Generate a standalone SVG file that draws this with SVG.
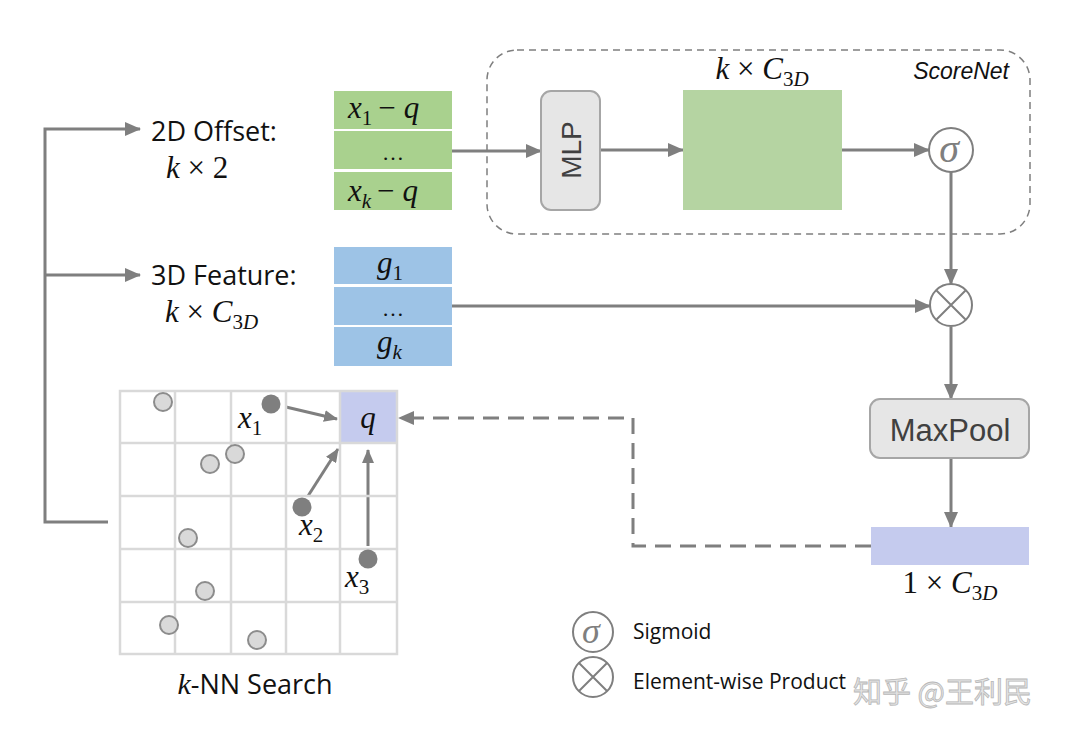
<svg xmlns="http://www.w3.org/2000/svg" width="1080" height="740" viewBox="0 0 1080 740">
<defs>
<marker id="ah" markerUnits="userSpaceOnUse" markerWidth="16" markerHeight="14" refX="15" refY="7" orient="auto">
<path d="M0,0 L16,7 L0,14 z" fill="#7f7f7f"/>
</marker>
<marker id="ahs" markerUnits="userSpaceOnUse" markerWidth="14" markerHeight="12" refX="13" refY="6" orient="auto">
<path d="M0,0 L14,6 L0,12 z" fill="#7f7f7f"/>
</marker>
<style>
.ln{stroke:#7f7f7f;stroke-width:3;fill:none}
.lab{font-family:"Open Sans","Noto Sans",sans-serif;font-size:27px;fill:#111}
.m{font-family:"Liberation Serif","DejaVu Serif",serif;font-size:31px;fill:#111}
.i{font-style:italic}
.s{font-size:21px}
.dots{font-size:22px}
.sg{fill:#7f7f7f;font-size:40px}
.sgl{fill:#7f7f7f;font-size:36px}
.grid{stroke:#d9d9d9;stroke-width:2.5;fill:none}
.pt{fill:#d9d9d9;stroke:#8c8c8c;stroke-width:2}
.dk{fill:#7f7f7f}
.box{fill:#e6e6e6;stroke:#a6a6a6;stroke-width:2}
.sans{font-family:"Liberation Sans",Arial,sans-serif;fill:#404040}
.circ{fill:#fff;stroke:#7f7f7f;stroke-width:2}
.leg{font-family:"Open Sans","Noto Sans",sans-serif;font-size:21px;fill:#111}
</style>
</defs>

<g id="connectors">
<path class="ln" d="M108,522 H45 V129 H140" marker-end="url(#ah)"/>
<path class="ln" d="M45,275 H140" marker-end="url(#ah)"/>
<path class="ln" d="M452,151 H541" marker-end="url(#ah)"/>
<path class="ln" d="M600,150 H683" marker-end="url(#ah)"/>
<path class="ln" d="M842,150 H929" marker-end="url(#ah)"/>
<path class="ln" d="M951,172 V284" marker-end="url(#ah)"/>
<path class="ln" d="M452,306 H930" marker-end="url(#ah)"/>
<path class="ln" d="M951,327 V399" marker-end="url(#ah)"/>
<path class="ln" d="M951,458 V527" marker-end="url(#ah)"/>
<path class="ln" d="M871,546 H633 V418 H399" stroke-dasharray="16,9" marker-end="url(#ah)"/>
<path class="ln" d="M286,407 L337,419" marker-end="url(#ahs)"/>
<path class="ln" d="M308,496 L338,449" marker-end="url(#ahs)"/>
<path class="ln" d="M368,546 V450" marker-end="url(#ahs)"/>
</g>

<g id="scorenet">
<rect x="487" y="50" width="543" height="184" rx="30" fill="none" stroke="#7f7f7f" stroke-width="1.5" stroke-dasharray="7,5"/>
<text x="1009" y="79" text-anchor="end" font-family="Liberation Sans,Arial,sans-serif" font-style="italic" font-size="23" fill="#111">ScoreNet</text>
</g>

<g id="label-2d">
<text class="lab" x="151" y="141">2D Offset:</text>
<text class="m" x="166" y="178"><tspan class="i">k</tspan> × 2</text>
</g>
<g id="label-3d">
<text class="lab" x="151" y="285">3D Feature:</text>
<text class="m" x="165" y="322"><tspan class="i">k</tspan> × <tspan class="i">C</tspan><tspan dy="7" class="s">3<tspan class="i">D</tspan></tspan></text>
</g>

<g id="offset-stack">
<rect x="334" y="91" width="118" height="38" fill="#a9d18e"/>
<rect x="334" y="131" width="118" height="38" fill="#a9d18e"/>
<rect x="334" y="172" width="118" height="38" fill="#a9d18e"/>
<text class="m" x="348" y="118"><tspan class="i">x</tspan><tspan dy="7" class="s">1</tspan><tspan dy="-7" dx="6">−</tspan><tspan class="i" dx="8">q</tspan></text>
<text class="m dots" x="393" y="160" text-anchor="middle">…</text>
<text class="m" x="348" y="201"><tspan class="i">x</tspan><tspan dy="7" class="s i">k</tspan><tspan dy="-7" dx="6">−</tspan><tspan class="i" dx="8">q</tspan></text>
</g>

<g id="feature-stack">
<rect x="334" y="247" width="118" height="37" fill="#9dc3e6"/>
<rect x="334" y="287" width="118" height="38" fill="#9dc3e6"/>
<rect x="334" y="327" width="118" height="39" fill="#9dc3e6"/>
<text class="m" x="377" y="273"><tspan class="i">g</tspan><tspan dy="7" class="s">1</tspan></text>
<text class="m dots" x="393" y="316" text-anchor="middle">…</text>
<text class="m" x="377" y="352"><tspan class="i">g</tspan><tspan dy="7" class="s i">k</tspan></text>
</g>

<g id="mlp">
<rect class="box" x="541" y="91" width="59" height="119" rx="10"/>
<text class="sans" x="0" y="0" font-size="28" text-anchor="middle" transform="translate(581,150) rotate(-90)">MLP</text>
</g>

<g id="score-map">
<rect x="683" y="90" width="159" height="120" fill="#b5d4a2"/>
<text class="m" x="762" y="79" text-anchor="middle"><tspan class="i">k</tspan> × <tspan class="i">C</tspan><tspan dy="7" class="s">3<tspan class="i">D</tspan></tspan></text>
</g>

<g id="sigmoid">
<circle class="circ" cx="951" cy="150" r="22"/>
<text class="m i sg" x="949" y="162" text-anchor="middle">σ</text>
</g>

<g id="product">
<circle class="circ" cx="951" cy="305" r="21"/>
<path d="M936,290 L966,320 M966,290 L936,320" stroke="#7f7f7f" stroke-width="2"/>
</g>

<g id="maxpool">
<rect class="box" x="870" y="399" width="159" height="59" rx="10"/>
<text class="sans" x="950" y="441" font-size="31" text-anchor="middle">MaxPool</text>
</g>

<g id="pooled">
<rect x="871" y="527" width="158" height="38" fill="#c5cbee"/>
<text class="m" x="950" y="593" text-anchor="middle">1 × <tspan class="i">C</tspan><tspan dy="7" class="s">3<tspan class="i">D</tspan></tspan></text>
</g>

<g id="knn-grid">
<rect x="340" y="391" width="57" height="52" fill="#c5cbee"/>
<rect class="grid" x="120" y="391" width="277" height="263"/>
<path class="grid" d="M175,391 V654 M231,391 V654 M286,391 V654 M340,391 V654 M120,443 H397 M120,496 H397 M120,549 H397 M120,602 H397"/>
<circle class="pt" cx="163" cy="402" r="9"/>
<circle class="pt" cx="210" cy="464" r="9"/>
<circle class="pt" cx="235" cy="454" r="9"/>
<circle class="pt" cx="188" cy="538" r="9"/>
<circle class="pt" cx="205" cy="591" r="9"/>
<circle class="pt" cx="169" cy="625" r="9"/>
<circle class="pt" cx="257" cy="640" r="9"/>
<circle class="dk" cx="271" cy="404" r="9.5"/>
<circle class="dk" cx="302" cy="507" r="9.5"/>
<circle class="dk" cx="368" cy="559" r="9.5"/>
<text class="m i" x="368" y="428" text-anchor="middle">q</text>
<text class="m" x="238" y="428"><tspan class="i">x</tspan><tspan dy="7" class="s">1</tspan></text>
<text class="m" x="299" y="535"><tspan class="i">x</tspan><tspan dy="7" class="s">2</tspan></text>
<text class="m" x="345" y="587"><tspan class="i">x</tspan><tspan dy="7" class="s">3</tspan></text>
<text class="lab" x="255" y="694" text-anchor="middle"><tspan font-family="Liberation Serif,serif" font-style="italic" style="font-size:30px">k</tspan>-NN Search</text>
</g>

<g id="legend">
<circle class="circ" cx="593" cy="632" r="20"/>
<text class="m i sgl" x="591" y="643" text-anchor="middle">σ</text>
<text class="leg" x="633" y="639">Sigmoid</text>
<circle class="circ" cx="593" cy="677" r="20"/>
<path d="M579,663 L607,691 M607,663 L579,691" stroke="#7f7f7f" stroke-width="2"/>
<text class="leg" x="633" y="689">Element-wise Product</text>
</g>

<g id="watermark">
<text x="853" y="703" font-family="Noto Sans CJK SC,sans-serif" font-size="29" fill="#e4e4e4" stroke="#b8b8b8" stroke-width="0.8">知乎 @王利民</text>
</g>
</svg>
